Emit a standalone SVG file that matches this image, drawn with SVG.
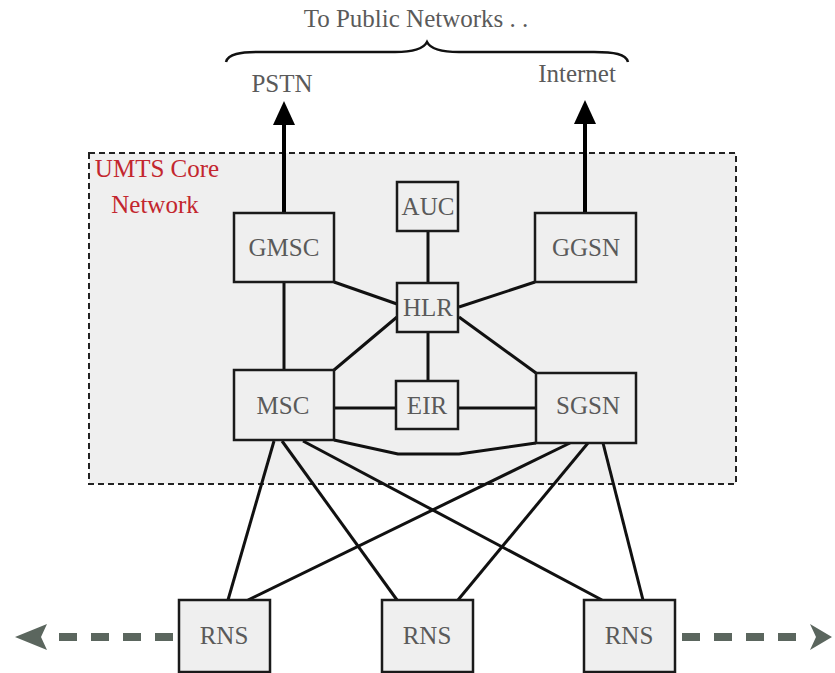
<svg xmlns="http://www.w3.org/2000/svg" width="835" height="673" viewBox="0 0 835 673">
  <style>
    .lbl { font-family: "Liberation Serif", "Times New Roman", serif; font-size: 25px; fill: #5a5a5a; text-anchor: middle; dominant-baseline: central; }
    .head { font-family: "Liberation Serif", "Times New Roman", serif; font-size: 25px; fill: #5a5a5a; text-anchor: middle; }
    .node rect { fill: #efefef; stroke: #1a1a1a; stroke-width: 2.5; }
    .link { stroke: #111; stroke-width: 3; fill: none; stroke-linejoin: round; }
    .uplink { stroke: #000; stroke-width: 4; }
    .ext { stroke: #5b665e; stroke-width: 8; stroke-dasharray: 18 14; }
    .core-title { font-family: "Liberation Serif", "Times New Roman", serif; font-size: 25px; fill: #c3262e; text-anchor: middle; }
  </style>

  <rect width="835" height="673" fill="#ffffff"/>

  <!-- core network area -->
  <g id="core">
    <rect x="89" y="153" width="647" height="331" fill="#efefef" stroke="#222" stroke-width="2" stroke-dasharray="6 4"/>
    <text class="core-title" x="157" y="177">UMTS Core</text>
    <text class="core-title" x="155" y="213">Network</text>
  </g>

  <!-- public networks header -->
  <g id="public">
    <text class="head" x="416" y="27">To Public Networks . .</text>
    <path d="M226,62 C228,54 240,52 260,52 L395,52 C415,52 424,48 427,42 C430,48 439,52 459,52 L594,52 C614,52 626,54 628,62" fill="none" stroke="#111" stroke-width="2.5"/>
    <text class="head" x="282" y="92">PSTN</text>
    <text class="head" x="577" y="82">Internet</text>
  </g>

  <!-- connectors -->
  <g id="connectors">
    <line class="uplink" x1="284" y1="213" x2="284" y2="122"/>
    <polygon points="284,101 273,125 295,125" fill="#000"/>
    <line class="uplink" x1="585" y1="213" x2="585" y2="121"/>
    <polygon points="585,100 574,124 596,124" fill="#000"/>

    <line class="link" x1="428" y1="231" x2="428" y2="283"/>
    <line class="link" x1="334" y1="282" x2="397" y2="304"/>
    <line class="link" x1="535" y1="282" x2="459" y2="307"/>
    <line class="link" x1="397" y1="317" x2="334" y2="370"/>
    <line class="link" x1="459" y1="317" x2="536" y2="373"/>
    <line class="link" x1="428" y1="332" x2="428" y2="381"/>
    <line class="link" x1="284" y1="282" x2="284" y2="370"/>
    <line class="link" x1="334" y1="408" x2="396" y2="408"/>
    <line class="link" x1="458" y1="408" x2="536" y2="408"/>
    <polyline class="link" points="334,440 398,454 459,454 536,443"/>

    <line class="link" x1="274" y1="441" x2="228" y2="600"/>
    <line class="link" x1="282" y1="441" x2="397" y2="600"/>
    <line class="link" x1="303" y1="441" x2="602" y2="600"/>
    <line class="link" x1="570" y1="443" x2="248" y2="600"/>
    <line class="link" x1="588" y1="443" x2="458" y2="600"/>
    <line class="link" x1="603" y1="443" x2="643" y2="600"/>

    <line class="ext" x1="173" y1="637" x2="46" y2="637"/>
    <polygon points="15,637 47,624 41,637 47,650" fill="#5b665e"/>
    <line class="ext" x1="682" y1="637" x2="808" y2="637"/>
    <polygon points="832,637 810,624 816,637 810,650" fill="#5b665e"/>
  </g>

  <!-- nodes -->
  <g id="gmsc" class="node"><rect x="234" y="213" width="100" height="69"/><text class="lbl" x="284" y="247">GMSC</text></g>
  <g id="auc" class="node"><rect x="397" y="182" width="61" height="49"/><text class="lbl" x="428" y="206">AUC</text></g>
  <g id="ggsn" class="node"><rect x="535" y="213" width="101" height="69"/><text class="lbl" x="586" y="247">GGSN</text></g>
  <g id="hlr" class="node"><rect x="397" y="283" width="61" height="49"/><text class="lbl" x="428" y="307">HLR</text></g>
  <g id="msc" class="node"><rect x="234" y="370" width="100" height="70"/><text class="lbl" x="283" y="405">MSC</text></g>
  <g id="eir" class="node"><rect x="396" y="381" width="62" height="48"/><text class="lbl" x="427" y="405">EIR</text></g>
  <g id="sgsn" class="node"><rect x="536" y="373" width="100" height="70"/><text class="lbl" x="588" y="405">SGSN</text></g>
  <g id="rns1" class="node"><rect x="179" y="600" width="91" height="72"/><text class="lbl" x="224" y="635">RNS</text></g>
  <g id="rns2" class="node"><rect x="382" y="600" width="91" height="72"/><text class="lbl" x="427" y="635">RNS</text></g>
  <g id="rns3" class="node"><rect x="584" y="600" width="91" height="72"/><text class="lbl" x="629" y="635">RNS</text></g>
</svg>
